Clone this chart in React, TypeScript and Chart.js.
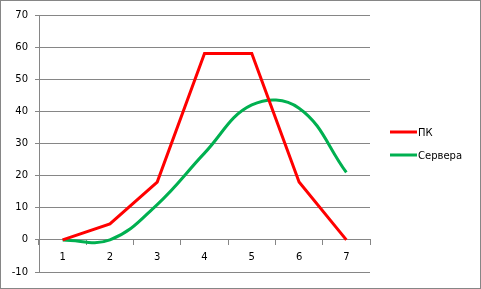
import React, { useEffect, useRef } from "react";
import { Chart, registerables } from "chart.js";

Chart.register(...registerables);

const categories = ["1", "2", "3", "4", "5", "6", "7"];
const pcValues = [0, 5, 18, 58, 58, 18, 0];
const serverValues = [0, 0, 11, 27, 42, 41, 21];
const seriesNames = ["ПК", "Сервера"];
const seriesColors = ["#FF0000", "#00B050"];

const FONT = "'DejaVu Sans', Verdana, sans-serif";
const GRID = "#868686";

const frameAndLegend = {
  id: "frameAndLegend",
  beforeDraw(chart: any) {
    const ctx = chart.ctx;
    ctx.save();
    ctx.fillStyle = "#ffffff";
    ctx.fillRect(0, 0, chart.width, chart.height);
    ctx.strokeStyle = GRID;
    ctx.lineWidth = 1;
    ctx.strokeRect(0.5, 0.5, chart.width - 1, chart.height - 1);
    ctx.restore();
  },
  afterDraw(chart: any) {
    const ctx = chart.ctx;
    ctx.save();
    chart.data.datasets.forEach((ds: any, i: number) => {
      const y = 132 + i * 23;
      ctx.strokeStyle = ds.borderColor;
      ctx.lineWidth = 3;
      ctx.beginPath();
      ctx.moveTo(390, y);
      ctx.lineTo(417, y);
      ctx.stroke();
      ctx.fillStyle = "#000000";
      ctx.font = `10px ${FONT}`;
      ctx.textBaseline = "middle";
      ctx.textAlign = "left";
      ctx.fillText(ds.label, 418, y + 1);
    });
    ctx.restore();
  },
};

export default function App() {
  const ref = useRef<HTMLCanvasElement>(null);
  useEffect(() => {
    document.body.style.margin = "0";
    if (!ref.current) return;
    const chart = new Chart(ref.current, {
      type: "line",
      data: {
        labels: categories,
        datasets: [
          {
            label: seriesNames[0],
            data: pcValues,
            borderColor: seriesColors[0],
            backgroundColor: seriesColors[0],
            borderWidth: 3,
            pointRadius: 0,
            tension: 0,
          },
          {
            label: seriesNames[1],
            data: serverValues,
            borderColor: seriesColors[1],
            backgroundColor: seriesColors[1],
            borderWidth: 3,
            pointRadius: 0,
            tension: 0.4,
          },
        ],
      },
      options: {
        animation: false,
        responsive: false,
        devicePixelRatio: 1,
        layout: { padding: { left: 0, top: 15, right: 111, bottom: 17 } },
        plugins: {
          legend: { display: false },
          tooltip: { enabled: false },
        },
        scales: {
          x: {
            type: "category",
            position: { y: 0 } as any,
            offset: true,
            grid: {
              offset: true,
              drawOnChartArea: false,
              drawTicks: true,
              tickLength: 5,
              color: GRID,
            },
            border: { display: true, color: GRID },
            ticks: {
              color: "#000000",
              font: { family: FONT, size: 10 },
              padding: 7,
              maxRotation: 0,
            },
          },
          y: {
            min: -10,
            max: 70,
            afterFit: (scale: any) => {
              scale.width = 39;
            },
            grid: { color: GRID, tickLength: 4, drawTicks: true },
            border: { display: true, color: GRID },
            ticks: {
              stepSize: 10,
              color: "#000000",
              font: { family: FONT, size: 10 },
              padding: 7,
            },
          },
        },
      },
      plugins: [frameAndLegend],
    });
    return () => chart.destroy();
  }, []);
  return <canvas ref={ref} width={481} height={289} style={{ display: "block" }} />;
}
